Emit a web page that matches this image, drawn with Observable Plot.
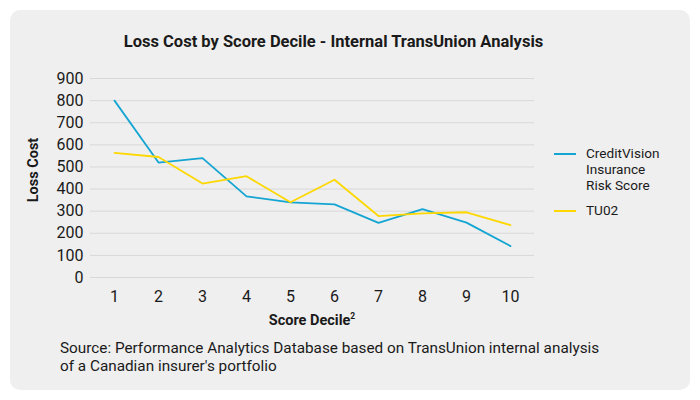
<!DOCTYPE html>
<html>
<head>
<meta charset="utf-8">
<script src="https://cdn.jsdelivr.net/npm/d3@7"></script>
<script src="https://cdn.jsdelivr.net/npm/@observablehq/plot@0.6"></script>
<style>
  html, body { margin: 0; padding: 0; background: #ffffff; }
  #wrap { position: relative; width: 700px; height: 400px; font-family: Roboto, "Open Sans", sans-serif; color: #1a1a1a; }
  #panel { position: absolute; left: 10px; top: 10px; width: 680px; height: 380px; background: #efefef; border-radius: 10px; }
  #title { position: absolute; left: 0; width: 667px; top: 41px; transform: translateY(-50%); text-align: center; font-weight: 700; font-size: 16.5px; }
  #chart { position: absolute; left: 0; top: 60px; }
  #ylab { position: absolute; left: 33px; top: 170px; transform: translate(-50%, -50%) rotate(-90deg); font-weight: 700; font-size: 14.5px; white-space: nowrap; }
  #xlab { position: absolute; left: 312px; top: 320px; transform: translate(-50%, -50%); font-weight: 700; font-size: 14.5px; white-space: nowrap; }
  #xlab sup { font-size: 8.5px; vertical-align: 6px; }
  #legend { position: absolute; left: 554px; top: 145px; font-size: 13.6px; line-height: 16px; }
  .item { position: relative; padding-left: 32px; margin-bottom: 9px; }
  .swatch { position: absolute; left: 0; top: 8px; width: 22px; height: 2px; }
  #source { position: absolute; left: 60px; top: 340px; font-size: 15.3px; line-height: 17.5px; }
</style>
</head>
<body>
<div id="wrap">
  <div id="panel"></div>
  <div id="title">Loss Cost by Score Decile - Internal TransUnion Analysis</div>
  <div id="chart"></div>
  <div id="ylab">Loss Cost</div>
  <div id="xlab">Score Decile<sup>2</sup></div>
  <div id="legend"></div>
  <div id="source">Source: Performance Analytics Database based on TransUnion internal analysis<br>of a Canadian insurer's portfolio</div>
</div>
<script>
const deciles = [1, 2, 3, 4, 5, 6, 7, 8, 9, 10];
const creditVision = [800, 520, 540, 367, 340, 331, 247, 309, 248, 142];
const tu02 = [564, 545, 425, 458, 340, 442, 278, 290, 295, 237];
const yTicks = [0, 100, 200, 300, 400, 500, 600, 700, 800, 900];
const seriesNames = ["CreditVision Insurance Risk Score", "TU02"];
const seriesLegend = [["CreditVision", "Insurance", "Risk Score"], ["TU02"]];
const seriesColors = ["#14a5d3", "#fdd800"];

const rows = [
  ...deciles.map((d, i) => ({decile: d, value: creditVision[i], series: seriesNames[0]})),
  ...deciles.map((d, i) => ({decile: d, value: tu02[i], series: seriesNames[1]}))
];

const chart = Plot.plot({
  width: 560,
  height: 270,
  marginLeft: 90,
  marginRight: 26,
  marginTop: 18,
  marginBottom: 53,
  style: {background: "transparent", fontFamily: "Roboto, 'Open Sans', sans-serif", fontSize: "16px", color: "#1a1a1a"},
  x: {type: "point", domain: deciles, padding: 0.45, label: null},
  y: {domain: [0, 900], label: null},
  color: {domain: seriesNames, range: seriesColors},
  marks: [
    Plot.gridY(yTicks, {stroke: "#d8d8d8", strokeOpacity: 1, strokeWidth: 1}),
    Plot.axisY(yTicks, {tickSize: 0, tickPadding: 7, label: null}),
    Plot.axisX(deciles, {tickSize: 0, tickPadding: 13, label: null}),
    Plot.line(rows, {x: "decile", y: "value", z: "series", stroke: "series", strokeWidth: 1.8})
  ]
});
document.getElementById("chart").appendChild(chart);

const legend = document.getElementById("legend");
seriesNames.forEach((name, i) => {
  const item = document.createElement("div");
  item.className = "item";
  item.innerHTML = '<div class="swatch" style="background:' + seriesColors[i] + '"></div>' + seriesLegend[i].join("<br>");
  legend.appendChild(item);
});
</script>
</body>
</html>
